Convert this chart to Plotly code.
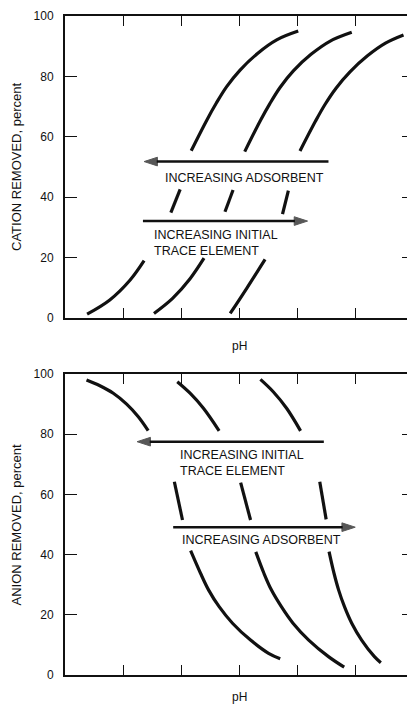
import plotly.graph_objects as go

# ---- Cation removal curves (pH position, percent removed); None marks a break in the line
cation_a_ph = [0.38, 0.77, 1.12, 1.36, None, 1.82, 1.98, None,
               2.17, 2.44, 2.60, 2.78, 3.01, 3.31, 3.64, 4.01]
cation_a_pct = [1.3, 6.0, 12.6, 19.0, None, 34.9, 42.6, None,
                55.4, 65.6, 71.1, 76.6, 82.1, 87.6, 92.1, 95.0]

cation_b_ph = [1.53, 1.85, 2.15, 2.39, None, 2.75, 2.89, None,
               3.09, 3.36, 3.52, 3.70, 3.93, 4.23, 4.56, 4.93]
cation_b_pct = [1.5, 6.5, 13.0, 19.8, None, 35.2, 42.4, None,
                55.1, 65.4, 70.9, 76.4, 81.9, 87.3, 91.7, 94.6]

cation_c_ph = [2.84, 3.13, 3.44, None, 3.74, 3.84, None,
               4.04, 4.31, 4.47, 4.66, 4.90, 5.20, 5.51, 5.82]
cation_c_pct = [1.5, 10.0, 19.4, None, 34.4, 42.2, None,
                55.3, 65.3, 70.7, 76.1, 81.5, 86.8, 91.0, 93.7]

# ---- Anion removal curves
anion_a_ph = [0.37, 0.60, 0.83, 1.06, 1.26, 1.43, None, 1.88, 2.02, None,
              2.16, 2.33, 2.47, 2.65, 2.88, 3.19, 3.50, 3.70]
anion_a_pct = [98.0, 96.1, 93.6, 90.0, 85.8, 81.2, None, 64.2, 51.5, None,
               41.3, 33.8, 28.2, 22.7, 17.2, 11.6, 7.2, 5.4]

anion_b_ph = [1.93, 2.15, 2.38, 2.65, None, 3.02, 3.19, None,
              3.28, 3.42, 3.55, 3.72, 3.92, 4.19, 4.53, 4.80]
anion_b_pct = [97.4, 93.6, 88.6, 81.1, None, 63.9, 51.5, None,
               40.9, 33.8, 28.2, 22.7, 17.2, 11.6, 6.1, 2.6]

anion_c_ph = [3.36, 3.58, 3.81, 4.05, None, 4.38, 4.49, None,
              4.54, 4.625, 4.705, 4.805, 4.93, 5.10, 5.32, 5.43]
anion_c_pct = [98.2, 94.1, 88.6, 81.1, None, 64.2, 51.7, None,
               41.0, 33.8, 28.2, 22.7, 17.2, 11.6, 6.1, 4.1]

# ---- Direction arrows: [start, end] in pH position, held at one percent level
cation_adsorbent_ph = [4.53, 1.36]
cation_adsorbent_pct = 51.8
cation_trace_ph = [1.34, 4.17]
cation_trace_pct = 32.1

anion_trace_ph = [4.45, 1.24]
anion_trace_pct = 77.5
anion_adsorbent_ph = [1.86, 4.99]
anion_adsorbent_pct = 49.1

y_ticks = [0, 20, 40, 60, 80, 100]
x_ticks = [0, 1, 2, 3, 4, 5, 6]

INK = "#111111"
FONT = "Liberation Sans, Arial, Helvetica, sans-serif"

fig = go.Figure()


def add_curve(xs, ys, xa, ya):
    fig.add_trace(go.Scatter(
        x=xs, y=ys, xaxis=xa, yaxis=ya, mode="lines",
        line=dict(color=INK, width=3.2, shape="spline", smoothing=1.0),
        connectgaps=False, hoverinfo="skip", showlegend=False,
    ))


def add_arrow(xs, level, xa, ya):
    fig.add_trace(go.Scatter(
        x=xs, y=[level, level], xaxis=xa, yaxis=ya, mode="lines+markers",
        line=dict(color=INK, width=2.4),
        marker=dict(symbol=["circle", "arrow"], size=[0, 14], color=INK,
                    angleref="previous", line=dict(width=1, color=INK)),
        hoverinfo="skip", showlegend=False,
    ))


for xs, ys in [(cation_a_ph, cation_a_pct), (cation_b_ph, cation_b_pct), (cation_c_ph, cation_c_pct)]:
    add_curve(xs, ys, "x", "y")
for xs, ys in [(anion_a_ph, anion_a_pct), (anion_b_ph, anion_b_pct), (anion_c_ph, anion_c_pct)]:
    add_curve(xs, ys, "x2", "y3")

add_arrow(cation_adsorbent_ph, cation_adsorbent_pct, "x", "y")
add_arrow(cation_trace_ph, cation_trace_pct, "x", "y")
add_arrow(anion_trace_ph, anion_trace_pct, "x2", "y3")
add_arrow(anion_adsorbent_ph, anion_adsorbent_pct, "x2", "y3")

# placeholder traces so the right-hand tick axes are drawn
fig.add_trace(go.Scatter(x=[None], y=[None], xaxis="x", yaxis="y2", showlegend=False, hoverinfo="skip"))
fig.add_trace(go.Scatter(x=[None], y=[None], xaxis="x2", yaxis="y4", showlegend=False, hoverinfo="skip"))

x_common = dict(
    range=[0, 5.88], tickvals=x_ticks, ticks="inside", ticklen=10, tickwidth=1.3,
    tickcolor=INK, showticklabels=False, showline=True, linewidth=2, linecolor=INK,
    mirror="ticks", showgrid=False, zeroline=False, domain=[0, 1],
)
y_common = dict(
    range=[0, 100], tickvals=y_ticks, ticks="inside", ticklen=12, tickwidth=1.3,
    tickcolor=INK, showline=True, linewidth=2, linecolor=INK, showgrid=False,
    zeroline=False, tickfont=dict(family=FONT, size=12, color=INK),
    ticklabelstandoff=7,
)
y_right = dict(
    range=[0, 100], tickvals=y_ticks, ticks="inside", ticklen=5, tickwidth=1.3,
    tickcolor=INK, showline=False, showticklabels=False, showgrid=False,
    zeroline=False, side="right",
)

annotations = []


def label(text, x, y, xa, ya, size=12.5):
    annotations.append(dict(
        text=text, x=x, y=y, xref=xa, yref=ya, xanchor="left", yanchor="middle",
        align="left", showarrow=False, font=dict(family=FONT, size=size, color=INK),
    ))


label("INCREASING ADSORBENT", 1.68, 46.2, "x", "y")
label("INCREASING INITIAL<br>TRACE ELEMENT", 1.49, 25.0, "x", "y")
label("INCREASING INITIAL<br>TRACE ELEMENT", 1.94, 70.4, "x2", "y3")
label("INCREASING ADSORBENT", 1.98, 44.9, "x2", "y3")

for ya, title in [("y domain", "CATION REMOVED, percent"), ("y3 domain", "ANION REMOVED, percent")]:
    annotations.append(dict(
        text=title, x=-0.1433, y=0.5, xref="paper", yref=ya, textangle=-90,
        xanchor="center", yanchor="middle", showarrow=False,
        font=dict(family=FONT, size=13, color=INK),
    ))

for xa, yp in [("x", 0.4992), ("x2", -0.0334)]:
    annotations.append(dict(
        text="pH", x=3, y=yp, xref=xa, yref="paper", xanchor="center",
        yanchor="middle", showarrow=False, font=dict(family=FONT, size=12, color=INK),
    ))

fig.update_layout(
    width=407, height=707,
    margin=dict(l=65, r=0, t=16, b=32, autoexpand=False),
    paper_bgcolor="white", plot_bgcolor="white",
    xaxis=dict(anchor="y", **x_common),
    yaxis=dict(anchor="x", domain=[0.5417, 1], **y_common),
    yaxis2=dict(anchor="x", overlaying="y", **y_right),
    xaxis2=dict(anchor="y3", **x_common),
    yaxis3=dict(anchor="x2", domain=[0, 0.4568], **y_common),
    yaxis4=dict(anchor="x2", overlaying="y3", **y_right),
    annotations=annotations,
    showlegend=False,
)

fig.write_html("out.html")
